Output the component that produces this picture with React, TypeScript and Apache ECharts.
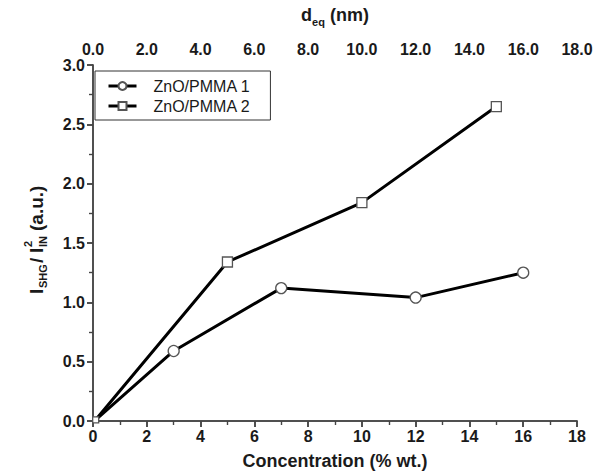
import React, { useEffect, useRef } from "react";
import * as echarts from "echarts";

const xTicks = [0, 2, 4, 6, 8, 10, 12, 14, 16, 18];
const series1Name = "ZnO/PMMA 1";
const series2Name = "ZnO/PMMA 2";
const conc1 = [0.15, 3, 7, 12, 16];
const shg1 = [0.02, 0.59, 1.12, 1.04, 1.25];
const conc2 = [0.1, 5, 10, 15];
const shg2 = [0.01, 1.34, 1.84, 2.65];

const FONT = "'Liberation Sans', Arial, sans-serif";

export default function App() {
  const ref = useRef<HTMLDivElement>(null);
  useEffect(() => {
    if (!ref.current) return;
    const chart = echarts.init(ref.current, null, { renderer: "svg" });
    const axisLine = { show: true, lineStyle: { color: "#444", width: 1.5 } };
    const labelStyle = { fontFamily: FONT, fontWeight: "bold" as const, fontSize: 16, color: "#1a1a1a" };
    const d1 = conc1.map((x, i) =>
      i === 0 ? { value: [x, shg1[i]], symbolSize: 0 } : { value: [x, shg1[i]] }
    );
    const d2 = conc2.map((x, i) =>
      i === 0 ? { value: [x, shg2[i]], symbolSize: 6 } : { value: [x, shg2[i]] }
    );
    chart.setOption({
      animation: false,
      backgroundColor: "#fff",
      grid: { left: 93, right: 27, top: 65, bottom: 54 },
      legend: {
        left: 95,
        top: 71,
        orient: "vertical",
        borderColor: "#333",
        borderWidth: 1,
        borderRadius: 0,
        padding: [7, 20, 6, 12],
        itemGap: 4,
        itemWidth: 28,
        itemHeight: 10,
        lineStyle: { width: 3, color: "#000" },
        textStyle: { fontFamily: FONT, fontSize: 16, color: "#1a1a1a", padding: [0, 0, 0, 12] },
        data: [series1Name, series2Name],
      },
      xAxis: [
        {
          type: "value",
          min: xTicks[0],
          max: xTicks[xTicks.length - 1],
          interval: 2,
          position: "bottom",
          axisLine,
          axisTick: { show: true, inside: false, length: 6, lineStyle: { color: "#444", width: 1.5 } },
          minorTick: { show: true, splitNumber: 2, length: 4, lineStyle: { color: "#444", width: 1.2 } },
          splitLine: { show: false },
          axisLabel: { ...labelStyle, margin: 7 },
          name: "Concentration (% wt.)",
          nameLocation: "middle",
          nameGap: 31,
          nameTextStyle: { fontFamily: FONT, fontWeight: "bold", fontSize: 18, color: "#1a1a1a" },
        },
        {
          type: "value",
          min: xTicks[0],
          max: xTicks[xTicks.length - 1],
          interval: 2,
          position: "top",
          axisLine,
          axisTick: { show: true, inside: true, length: 6, lineStyle: { color: "#444", width: 1.5 } },
          minorTick: { show: true, splitNumber: 2, length: 4, lineStyle: { color: "#444", width: 1.2 } },
          splitLine: { show: false },
          axisLabel: { ...labelStyle, margin: 8, formatter: (v: number) => v.toFixed(1) },
          name: "{b|d}{s|eq}{b| (nm)}",
          nameLocation: "middle",
          nameGap: 38,
          nameTextStyle: {
            rich: {
              b: { fontFamily: FONT, fontWeight: "bold", fontSize: 18, color: "#1a1a1a" },
              s: { fontFamily: FONT, fontWeight: "bold", fontSize: 11, color: "#1a1a1a", padding: [14, 0, 0, 0] },
            },
          },
        },
      ],
      yAxis: [
        {
          type: "value",
          min: 0,
          max: 3,
          interval: 0.5,
          position: "left",
          axisLine,
          axisTick: { show: true, inside: false, length: 6, lineStyle: { color: "#444", width: 1.5 } },
          minorTick: { show: true, splitNumber: 2, length: 4, lineStyle: { color: "#444", width: 1.2 } },
          splitLine: { show: false },
          axisLabel: { ...labelStyle, margin: 8, formatter: (v: number) => v.toFixed(1) },
        },
        {
          type: "value",
          min: 0,
          max: 3,
          interval: 0.5,
          position: "right",
          axisLine,
          axisTick: { show: true, inside: true, length: 6, lineStyle: { color: "#444", width: 1.5 } },
          minorTick: { show: true, splitNumber: 2, length: 4, lineStyle: { color: "#444", width: 1.2 } },
          splitLine: { show: false },
          axisLabel: { show: false },
        },
      ],
      series: [
        {
          name: series1Name,
          type: "line",
          data: d1,
          symbol: "circle",
          symbolSize: 11,
          showAllSymbol: true,
          lineStyle: { color: "#000", width: 3 },
          itemStyle: { color: "#fff", borderColor: "#555", borderWidth: 1.3 },
          z: 3,
        },
        {
          name: series2Name,
          type: "line",
          data: d2,
          symbol: "rect",
          symbolSize: 10,
          showAllSymbol: true,
          lineStyle: { color: "#000", width: 3 },
          itemStyle: { color: "#fff", borderColor: "#555", borderWidth: 1.3 },
          z: 3,
        },
      ],
      graphic: [
        {
          type: "group",
          x: 36,
          y: 294,
          rotation: Math.PI / 2,
          children: [
            { type: "text", x: 0, y: 0, style: { text: "I", font: `bold 19px ${FONT}`, fill: "#1a1a1a", verticalAlign: "middle" } },
            { type: "text", x: 6, y: 7, style: { text: "SHG", font: `bold 11px ${FONT}`, fill: "#1a1a1a", verticalAlign: "middle" } },
            { type: "text", x: 31, y: 0, style: { text: "/", font: `bold 19px ${FONT}`, fill: "#1a1a1a", verticalAlign: "middle" } },
            { type: "text", x: 41, y: 0, style: { text: "I", font: `bold 19px ${FONT}`, fill: "#1a1a1a", verticalAlign: "middle" } },
            { type: "text", x: 47, y: -8, style: { text: "2", font: `bold 11px ${FONT}`, fill: "#1a1a1a", verticalAlign: "middle" } },
            { type: "text", x: 47, y: 7, style: { text: "IN", font: `bold 11px ${FONT}`, fill: "#1a1a1a", verticalAlign: "middle" } },
            { type: "text", x: 63, y: 0, style: { text: "(a.u.)", font: `bold 19px ${FONT}`, fill: "#1a1a1a", verticalAlign: "middle" } },
          ],
        },
      ],
    });
    return () => chart.dispose();
  }, []);
  return <div ref={ref} style={{ width: 604, height: 475, position: "absolute", left: 0, top: 0 }} />;
}
